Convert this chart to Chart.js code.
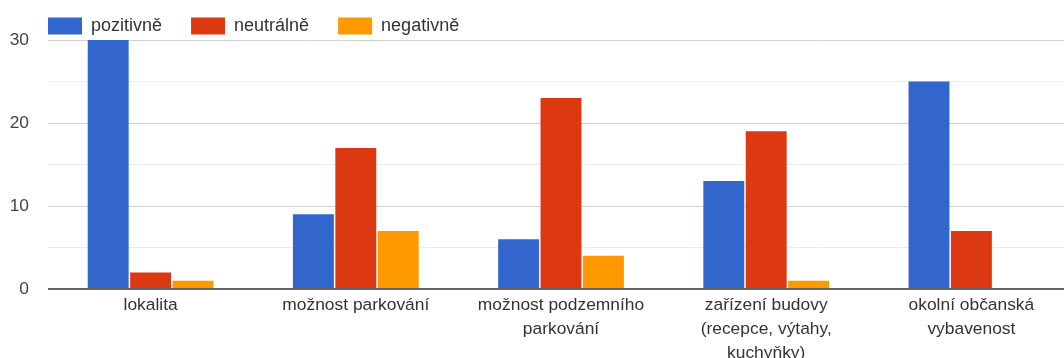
<!DOCTYPE html>
<html lang="cs">
<head>
<meta charset="utf-8">
<title>Hodnocení</title>
<script src="https://cdn.jsdelivr.net/npm/chart.js@4/dist/chart.umd.min.js"></script>
<style>
  html, body { margin: 0; padding: 0; background: #fff; overflow: hidden; }
  #wrap { width: 1074px; height: 358px; }
</style>
</head>
<body>
<div id="wrap"><canvas id="c" width="1074" height="358"></canvas></div>
<script>
// Kategorie (víceřádkové popisky jako pole řádků)
const categories = [
  'lokalita',
  'možnost parkování',
  ['možnost podzemního', 'parkování'],
  ['zařízení budovy', '(recepce, výtahy,', 'kuchyňky)'],
  ['okolní občanská', 'vybavenost']
];
const seriesNames = ['pozitivně', 'neutrálně', 'negativně'];
const pozitivne = [30, 9, 6, 13, 25];
const neutralne = [2, 17, 23, 19, 7];
const negativne = [1, 7, 4, 1, 0];
const yTicks = [0, 10, 20, 30];

const colors = ['#3366cc', '#dc3912', '#ff9900'];
const FONT = '"Liberation Sans", Arial, sans-serif';
const FONT_SIZE = 17.4;

const datasets = [pozitivne, neutralne, negativne].map((vals, i) => ({
  label: seriesNames[i],
  data: vals,
  backgroundColor: colors[i],
  borderWidth: 0,
  categoryPercentage: 0.62,
  barPercentage: 0.965
}));

// Posune legendu tak, aby začínala u levého okraje plochy grafu
const legendInset = {
  id: 'legendInset',
  afterLayout(chart) {
    if (chart.legend) {
      chart.legend.left += 19;
      chart.legend.right += 19;
    }
  }
};

new Chart(document.getElementById('c'), {
  type: 'bar',
  data: { labels: categories, datasets },
  plugins: [legendInset],
  options: {
    responsive: false,
    animation: false,
    layout: { padding: { left: 0, top: -12, right: 0, bottom: 0 } },
    plugins: {
      tooltip: { enabled: false },
      legend: {
        position: 'top',
        align: 'start',
        maxHeight: 52,
        labels: {
          boxWidth: 34,
          boxHeight: 17,
          padding: 29,
          color: '#333',
          font: { family: FONT, size: 18 }
        }
      }
    },
    scales: {
      x: {
        grid: { display: false, drawTicks: false },
        border: { display: false },
        ticks: {
          autoSkip: false,
          maxRotation: 0,
          minRotation: 0,
          padding: 4,
          color: '#333',
          font: { family: FONT, size: FONT_SIZE, lineHeight: 1.38 }
        },
        afterFit(scale) { scale.height = 69; }
      },
      y: {
        min: yTicks[0],
        max: yTicks[yTicks.length - 1],
        grid: {
          drawTicks: false,
          lineWidth: ctx => ctx.tick && ctx.tick.value === 0 ? 2 : 1,
          color: ctx => {
            if (!ctx.tick) return '#ccc';
            if (ctx.tick.value === 0) return '#666';
            return yTicks.includes(ctx.tick.value) ? '#d0d0d0' : '#ececec';
          }
        },
        border: { display: false },
        ticks: {
          stepSize: 5,
          padding: 19,
          color: '#444',
          font: { family: FONT, size: FONT_SIZE },
          callback: v => (yTicks.includes(v) ? String(v) : '')
        },
        afterFit(scale) { scale.width = 48; }
      }
    }
  }
});
</script>
</body>
</html>
